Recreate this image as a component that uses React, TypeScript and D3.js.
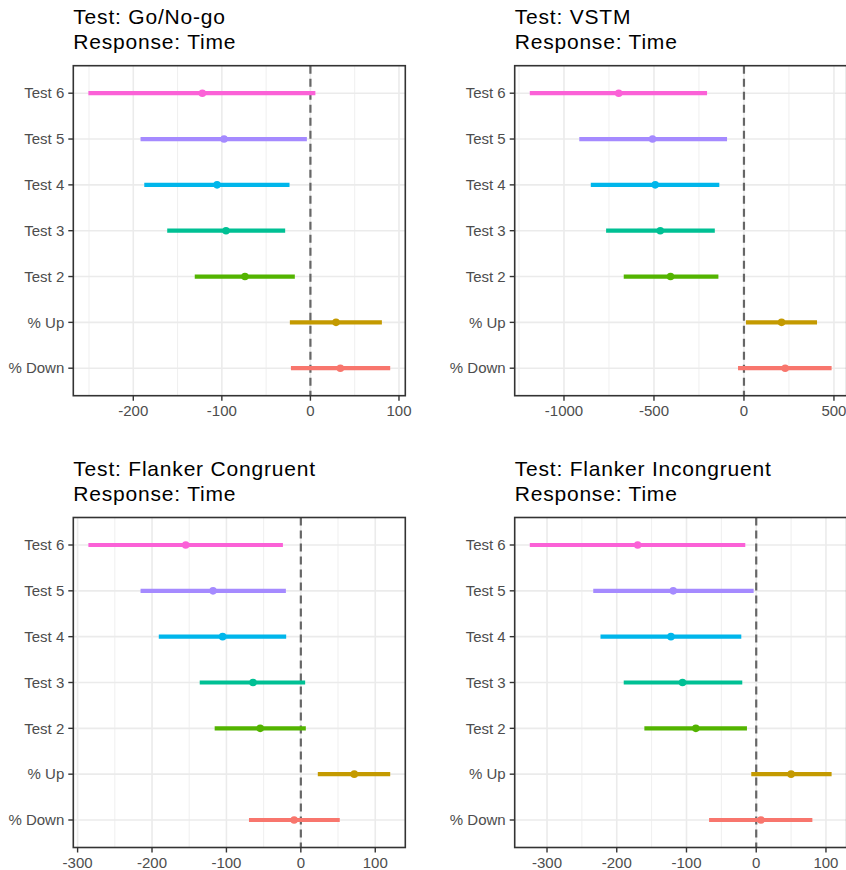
import React from 'react'
import * as d3 from 'd3'

// categories, bottom to top as in the plot
const categories = ['% Down', '% Up', 'Test 2', 'Test 3', 'Test 4', 'Test 5', 'Test 6']
const colors = ['#F8766D', '#C49A00', '#53B400', '#00C094', '#00B6EB', '#A58AFF', '#FB61D7']

const goNoGoLow = [-22, -23.2, -130.6, -161.7, -187.6, -191.8, -250.7]
const goNoGoMid = [33.8, 28.9, -73.9, -95.3, -105.4, -97.5, -122]
const goNoGoHigh = [90.1, 80.7, -17.6, -28.5, -23.6, -4, 5.6]
const goNoGoTicks = [-200, -100, 0, 100]

const vstmLow = [-33, 11, -668, -766, -851, -915, -1190]
const vstmMid = [229, 209, -408, -465, -493, -508, -696]
const vstmHigh = [487, 406, -142, -162, -137, -94, -205]
const vstmTicks = [-1000, -500, 0, 500]

const congLow = [-69.7, 22.8, -115.8, -135.9, -190.9, -215.4, -285.5]
const congMid = [-9, 71.8, -54.6, -64.3, -105.1, -118, -154.7]
const congHigh = [52.3, 120.1, 6.7, 5.8, -19.7, -20.1, -24.1]
const congTicks = [-300, -200, -100, 0, 100]

const incongLow = [-67.6, -7.1, -160.4, -190, -223.3, -233.7, -324.7]
const incongMid = [6.7, 50, -86.6, -105.7, -122.3, -119, -170]
const incongHigh = [80.5, 108.1, -13.3, -20, -21.4, -3.7, -15.7]
const incongTicks = [-300, -200, -100, 0, 100]

const panels = [
  { test: 'Go/No-go', low: goNoGoLow, mid: goNoGoMid, high: goNoGoHigh, ticks: goNoGoTicks },
  { test: 'VSTM', low: vstmLow, mid: vstmMid, high: vstmHigh, ticks: vstmTicks },
  { test: 'Flanker Congruent', low: congLow, mid: congMid, high: congHigh, ticks: congTicks },
  { test: 'Flanker Incongruent', low: incongLow, mid: incongMid, high: incongHigh, ticks: incongTicks },
]

const FONT = '"Liberation Sans", Arial, sans-serif'

function Panel({ panel, left, top }) {
  const width = 332
  const height = 330
  const lo = d3.min(panel.low)
  const hi = d3.max(panel.high)
  const pad = (hi - lo) * 0.05
  const x = d3.scaleLinear().domain([lo - pad, hi + pad]).range([left, left + width])
  const y = d3.scalePoint().domain([...categories].reverse()).range([top, top + height]).padding(0.6)

  // minor grid halfway between the major ticks
  const step = panel.ticks[1] - panel.ticks[0]
  const minor = d3.range(panel.ticks[0] - step / 2, hi + pad, step).filter((v) => v > lo - pad)

  return (
    <g>
      <text x={left} y={top - 42} fontSize={21} letterSpacing={0.8} fill="#000" fontFamily={FONT}>
        {`Test: ${panel.test}`}
      </text>
      <text x={left} y={top - 17} fontSize={21} letterSpacing={0.8} fill="#000" fontFamily={FONT}>
        Response: Time
      </text>
      {minor.map((v) => (
        <line key={'m' + v} x1={x(v)} x2={x(v)} y1={top} y2={top + height} stroke="#EBEBEB" strokeWidth={0.8} />
      ))}
      {panel.ticks.map((v) => (
        <line key={'g' + v} x1={x(v)} x2={x(v)} y1={top} y2={top + height} stroke="#EBEBEB" strokeWidth={1.6} />
      ))}
      {categories.map((c) => (
        <line key={'h' + c} x1={left} x2={left + width} y1={y(c)} y2={y(c)} stroke="#EBEBEB" strokeWidth={1.6} />
      ))}
      <line x1={x(0)} x2={x(0)} y1={top} y2={top + height} stroke="#666666" strokeWidth={2.2} strokeDasharray="8 5" />
      {categories.map((c, i) => (
        <g key={c}>
          <line x1={x(panel.low[i])} x2={x(panel.high[i])} y1={y(c)} y2={y(c)} stroke={colors[i]} strokeWidth={4.2} />
          <circle cx={x(panel.mid[i])} cy={y(c)} r={3.8} fill={colors[i]} />
        </g>
      ))}
      <rect x={left} y={top} width={width} height={height} fill="none" stroke="#333333" strokeWidth={1.6} />
      {categories.map((c) => (
        <g key={'yt' + c}>
          <line x1={left - 5} x2={left} y1={y(c)} y2={y(c)} stroke="#333333" strokeWidth={1.4} />
          <text x={left - 9} y={y(c)} dy="0.35em" textAnchor="end" fontSize={15} fill="#4D4D4D" fontFamily={FONT}>
            {c}
          </text>
        </g>
      ))}
      {panel.ticks.map((v) => (
        <g key={'xt' + v}>
          <line x1={x(v)} x2={x(v)} y1={top + height} y2={top + height + 5} stroke="#333333" strokeWidth={1.4} />
          <text x={x(v)} y={top + height + 20} textAnchor="middle" fontSize={15} fill="#4D4D4D" fontFamily={FONT}>
            {v}
          </text>
        </g>
      ))}
    </g>
  )
}

export default function App() {
  const lefts = [73.3, 514.7]
  const tops = [65.7, 517.5]
  return (
    <div>
      <style>{'body{margin:0}'}</style>
      <svg width={846} height={870} style={{ display: 'block', background: '#fff' }}>
        {panels.map((p, i) => (
          <Panel key={p.test} panel={p} left={lefts[i % 2]} top={tops[Math.floor(i / 2)]} />
        ))}
      </svg>
    </div>
  )
}
